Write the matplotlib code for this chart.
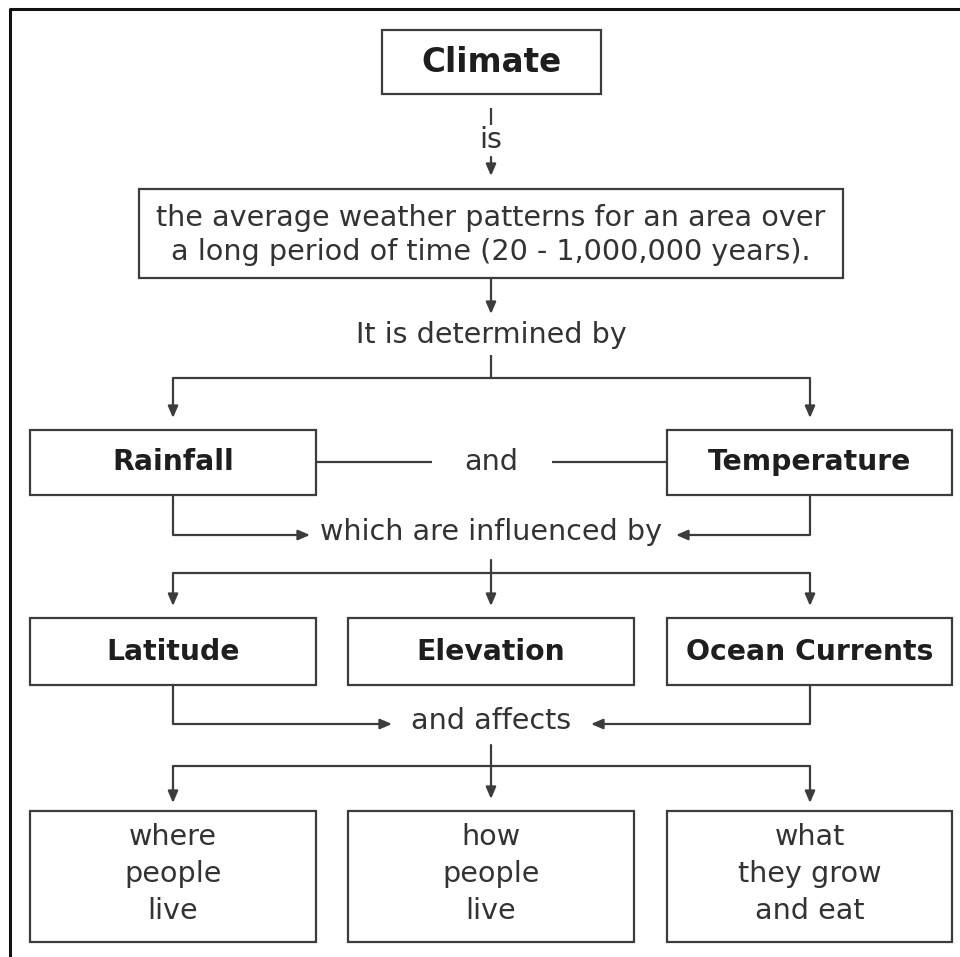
import matplotlib
matplotlib.use("Agg")
import matplotlib.pyplot as plt
from matplotlib.patches import Rectangle

# ---- content ----
title = "Climate"
definition = "the average weather patterns for an area over\na long period of time (20 - 1,000,000 years)."
connectors = ["is", "It is determined by", "and", "which are influenced by", "and affects"]
factors = ["Rainfall", "Temperature"]
influences = ["Latitude", "Elevation", "Ocean Currents"]
effects = ["where\npeople\nlive", "how\npeople\nlive", "what\nthey grow\nand eat"]

LC = "#3c3c3c"   # line colour
TC = "#333333"   # text colour
BC = "#1e1e1e"   # bold text colour
LW = 1.6
FS = 20.6
FSB = 20.3

fig = plt.figure(figsize=(9.6, 9.57), dpi=100)
ax = fig.add_axes([0, 0, 1, 1])
ax.set_xlim(0, 960)
ax.set_ylim(957, 0)
ax.axis("off")

# outer frame (left and top only)
ax.plot([9.5, 9.5, 960], [957, 8.5, 8.5], color="#111111", lw=2.2, solid_capstyle="butt")

def box(x0, y0, x1, y1):
    ax.add_patch(Rectangle((x0, y0), x1 - x0, y1 - y0, fill=False, ec=LC, lw=LW))

def line(xs, ys):
    ax.plot(xs, ys, color=LC, lw=LW, solid_capstyle="butt", solid_joinstyle="miter")

def arrow(x0, y0, x1, y1):
    ax.annotate("", xy=(x1, y1), xytext=(x0, y0),
                arrowprops=dict(arrowstyle="-|>,head_length=0.7,head_width=0.3",
                                color=LC, lw=LW, shrinkA=0, shrinkB=0,
                                mutation_scale=10))

def poly_arrow(xs, ys):
    line(xs[:-1], ys[:-1])
    arrow(xs[-2], ys[-2], xs[-1], ys[-1])

# Climate box
box(382, 30, 601, 94)
ax.text(491.5, 63, title, ha="center", va="center", fontsize=23.5, fontweight="bold", color=BC)

# "is"
line([491, 491], [108, 125])
ax.text(491, 140, connectors[0], ha="center", va="center", fontsize=FS, color=TC)
arrow(491, 157, 491, 176)

# definition box
box(139, 189, 843, 278)
ax.text(491, 235, definition, ha="center", va="center", fontsize=FS, color=TC, linespacing=1.3)

arrow(491, 278, 491, 314)
ax.text(491, 335, connectors[1], ha="center", va="center", fontsize=FS, color=TC)

# split to Rainfall / Temperature
line([491, 491], [355, 378])
line([173, 810], [378, 378])
arrow(173, 378, 173, 418)
arrow(810, 378, 810, 418)

col3 = [(30, 316), (348, 634), (667, 952)]
col2 = [(30, 316), (667, 952)]

for (x0, x1), lab in zip(col2, factors):
    box(x0, 430, x1, 495)
    ax.text((x0 + x1) / 2, 462, lab, ha="center", va="center", fontsize=FSB, fontweight="bold", color=BC)

ax.text(491, 462, connectors[2], ha="center", va="center", fontsize=FS, color=TC)
line([316, 432], [462, 462])
line([552, 667], [462, 462])

# converge to "which are influenced by"
poly_arrow([173, 173, 310], [495, 535, 535])
poly_arrow([810, 810, 676], [495, 535, 535])
ax.text(491, 532, connectors[3], ha="center", va="center", fontsize=FS, color=TC)

# split to three influences
arrow(491, 560, 491, 606)
line([173, 810], [573, 573])
arrow(173, 573, 173, 606)
arrow(810, 573, 810, 606)

for (x0, x1), lab in zip(col3, influences):
    box(x0, 618, x1, 685)
    ax.text((x0 + x1) / 2, 652, lab, ha="center", va="center", fontsize=FSB, fontweight="bold", color=BC)

# converge to "and affects"
poly_arrow([173, 173, 392], [685, 724, 724])
poly_arrow([810, 810, 591], [685, 724, 724])
ax.text(491, 721, connectors[4], ha="center", va="center", fontsize=FS, color=TC)

# split to three effects
arrow(491, 745, 491, 799)
line([173, 810], [766, 766])
arrow(173, 766, 173, 803)
arrow(810, 766, 810, 803)

for (x0, x1), lab in zip(col3, effects):
    box(x0, 811, x1, 942)
    ax.text((x0 + x1) / 2, 874, lab, ha="center", va="center", fontsize=FS, color=TC, linespacing=1.42)

fig.savefig("out.png", dpi=100)
